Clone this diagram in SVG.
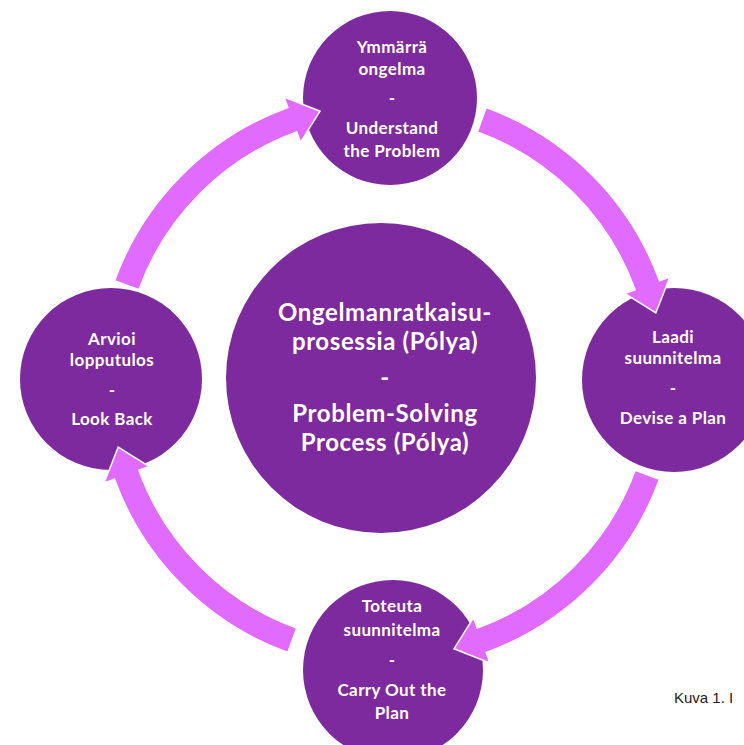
<svg xmlns="http://www.w3.org/2000/svg" width="744" height="745" viewBox="0 0 744 745">
<style>
.node{fill:#7D2A9E;}
.arrow{fill:#E26BFF;stroke:#FFFFFF;stroke-width:1.5;stroke-linejoin:miter;}
.t{font-family:Lato,"Open Sans","Liberation Sans",sans-serif;font-weight:bold;font-size:17px;letter-spacing:0.4px;fill:#FFFFFF;text-anchor:middle;}
.tc{font-family:Lato,"Open Sans","Liberation Sans",sans-serif;font-weight:bold;font-size:24px;letter-spacing:0.6px;fill:#FFFFFF;text-anchor:middle;}
.cap{font-family:"Liberation Sans",Arial,sans-serif;font-size:15px;fill:#222222;}
</style>
<rect width="744" height="745" fill="#FFFFFF"/>
<g id="center">
<circle class="node" cx="381" cy="378" r="155"/>
<text class="tc" x="385" y="321">Ongelmanratkaisu-</text>
<text class="tc" x="385" y="350">prosessia (Pólya)</text>
<text class="tc" x="385" y="386">-</text>
<text class="tc" x="385" y="422">Problem-Solving</text>
<text class="tc" x="385" y="451">Process (Pólya)</text>
</g>
<g id="understand">
<circle class="node" cx="390" cy="98" r="87"/>
<text class="t" x="392" y="53">Ymmärrä</text>
<text class="t" x="392" y="75">ongelma</text>
<text class="t" x="392" y="104">-</text>
<text class="t" x="392" y="134">Understand</text>
<text class="t" x="392" y="157">the Problem</text>
</g>
<g id="devise">
<circle class="node" cx="674" cy="380" r="92"/>
<text class="t" x="673" y="343">Laadi</text>
<text class="t" x="673" y="364">suunnitelma</text>
<text class="t" x="673" y="394">-</text>
<text class="t" x="673" y="424">Devise a Plan</text>
</g>
<g id="carry">
<circle class="node" cx="393" cy="670" r="90"/>
<text class="t" x="392" y="612">Toteuta</text>
<text class="t" x="392" y="636">suunnitelma</text>
<text class="t" x="392" y="666">-</text>
<text class="t" x="392" y="696">Carry Out the</text>
<text class="t" x="392" y="719">Plan</text>
</g>
<g id="lookback">
<circle class="node" cx="111" cy="379" r="91"/>
<text class="t" x="112" y="345">Arvioi</text>
<text class="t" x="112" y="366">lopputulos</text>
<text class="t" x="112" y="396">-</text>
<text class="t" x="112" y="425">Look Back</text>
</g>
<g id="connectors">
<defs>
<path id="arc" d="M486.2,107.5 A290,290 0 0 1 659.5,280.8 L669.9,277.1 L655.8,313.0 L624.7,293.5 L635.1,289.7 A264,264 0 0 0 477.3,131.9 Z"/>
</defs>
<use href="#arc" class="arrow"/>
<use href="#arc" class="arrow" transform="rotate(90 387 380)"/>
<use href="#arc" class="arrow" transform="rotate(180 387 380)"/>
<use href="#arc" class="arrow" transform="rotate(270 387 380)"/>
</g>
<text class="cap" x="674" y="703">Kuva 1. I</text>
</svg>
